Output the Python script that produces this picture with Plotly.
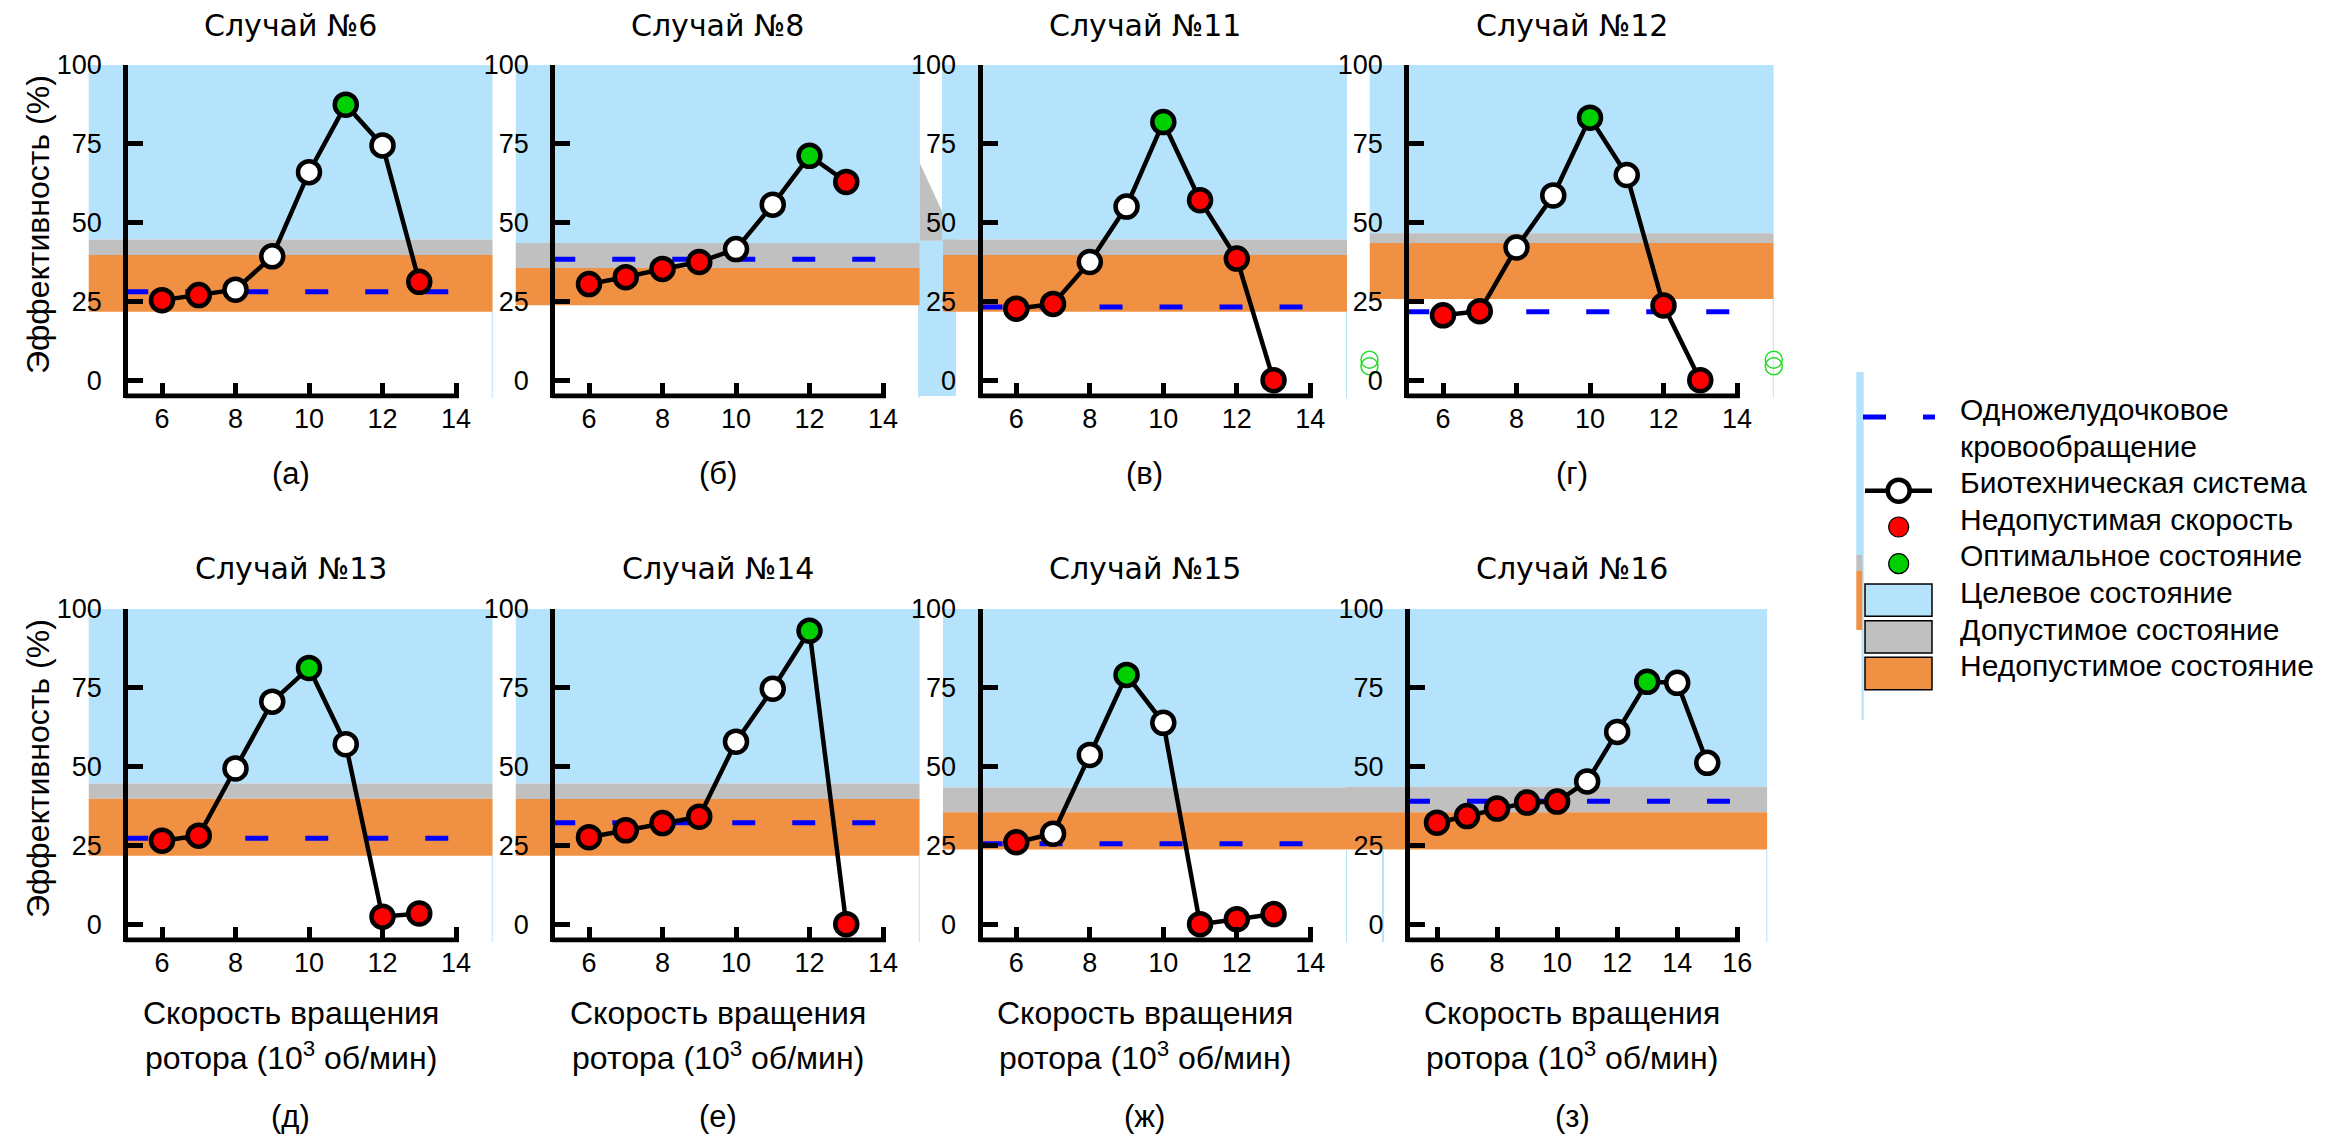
import plotly.graph_objects as go

W, H = 2333, 1136

# ---------------- data ----------------
case_titles = ["Случай №6", "Случай №8", "Случай №11", "Случай №12",
               "Случай №13", "Случай №14", "Случай №15", "Случай №16"]
panel_letters = ["(а)", "(б)", "(в)", "(г)", "(д)", "(е)", "(ж)", "(з)"]

speed_6 = [6, 7, 8, 9, 10, 11, 12, 13]
eff_6 = [25.4, 27.0, 28.7, 39.3, 66.0, 87.4, 74.5, 31.2]
state_6 = ["R", "R", "W", "W", "W", "G", "W", "R"]

speed_8 = [6, 7, 8, 9, 10, 11, 12, 13]
eff_8 = [30.5, 32.7, 35.3, 37.5, 41.6, 55.7, 71.2, 62.9]
state_8 = ["R", "R", "R", "R", "W", "W", "G", "R"]

speed_11 = [6, 7, 8, 9, 10, 11, 12, 13]
eff_11 = [22.7, 24.2, 37.5, 55.1, 81.9, 57.1, 38.6, 0.0]
state_11 = ["R", "R", "W", "W", "G", "R", "R", "R"]

speed_12 = [6, 7, 8, 9, 10, 11, 12, 13]
eff_12 = [20.6, 21.9, 42.1, 58.6, 83.3, 65.1, 23.7, 0.0]
state_12 = ["R", "R", "W", "W", "G", "W", "R", "R"]

speed_13 = [6, 7, 8, 9, 10, 11, 12, 13]
eff_13 = [26.5, 28.1, 49.4, 70.6, 81.3, 57.1, 2.4, 3.4]
state_13 = ["R", "R", "W", "W", "G", "W", "R", "R"]

speed_14 = [6, 7, 8, 9, 10, 11, 12, 13]
eff_14 = [27.6, 29.8, 32.1, 34.1, 57.9, 74.7, 93.1, 0.0]
state_14 = ["R", "R", "R", "R", "W", "W", "G", "R"]

speed_15 = [6, 7, 8, 9, 10, 11, 12, 13]
eff_15 = [26.0, 28.7, 53.7, 79.1, 63.9, 0.0, 1.6, 3.2]
state_15 = ["R", "W", "W", "G", "W", "R", "R", "R"]

speed_16 = [6, 7, 8, 9, 10, 11, 12, 13, 14, 15]
eff_16 = [32.2, 34.3, 36.7, 38.6, 38.9, 45.3, 61.0, 76.9, 76.6, 51.2]
state_16 = ["R", "R", "R", "R", "R", "W", "W", "G", "W", "W"]

# single-ventricle circulation level (dashed line)
single_ventricle = [28.1, 38.4, 23.2, 21.7, 27.3, 32.2, 25.5, 39.0]
# zone boundaries
target_lower = [44.6, 43.5, 44.6, 46.6, 44.6, 44.6, 43.4, 43.6]
acceptable_lower = [39.7, 35.6, 39.7, 43.5, 39.8, 39.7, 35.5, 35.5]
unacceptable_lower = [21.7, 23.8, 21.7, 25.8, 21.7, 21.7, 23.7, 23.7]

y_ticks = [0, 25, 50, 75, 100]
x_ticks_short = [6, 8, 10, 12, 14]
x_ticks_long = [6, 8, 10, 12, 14, 16]

# stray green open circles visible in the source picture (panel г)
stray_x = [4, 4, 15, 15]
stray_y = [6.5, 4.4, 6.5, 4.4]

legend_labels = ["Одножелудочковое", "кровообращение", "Биотехническая система",
                 "Недопустимая скорость", "Оптимальное состояние",
                 "Целевое состояние", "Допустимое состояние", "Недопустимое состояние"]

speeds = [speed_6, speed_8, speed_11, speed_12, speed_13, speed_14, speed_15, speed_16]
effs = [eff_6, eff_8, eff_11, eff_12, eff_13, eff_14, eff_15, eff_16]
states = [state_6, state_8, state_11, state_12, state_13, state_14, state_15, state_16]

# ---------------- styles ----------------
FONT = "Liberation Sans, Arial, sans-serif"
TFONT = "DejaVu Sans, Verdana, sans-serif"
LB = "#B5E3FB"
GRAY = "#C0C0C0"
ORANGE = "#F09043"
RED = "#FF0000"
GREEN = "#00D000"
BLUE = "#0000FF"
state_color = {"R": RED, "W": "#FFFFFF", "G": GREEN}

# panel geometry: (pixel of x=6, px per unit, xmin, xmax, axis end, row)
panels = [
    (154.0, 36.75, 4, 15, 14, 0),
    (581.0, 36.75, 4, 15, 14, 0),
    (1008.3, 36.75, 4, 15, 14, 0),
    (1435.0, 36.75, 4, 15, 14, 0),
    (154.0, 36.75, 4, 15, 14, 1),
    (581.0, 36.75, 4, 15, 14, 1),
    (1008.3, 36.75, 4, 15, 14, 1),
    (1429.0, 30.03, 3, 17, 16, 1),
]
row_top = [57.0, 601.0]      # pixel of y=100
ys = 3.152                    # px per unit y
YMIN = -5.8
DY = -8                       # text baseline correction

def px2py(p):
    return 1 - p / H

fig = go.Figure()
layout = dict(width=W, height=H, margin=dict(l=0, r=0, t=0, b=0),
              paper_bgcolor="white", plot_bgcolor="rgba(0,0,0,0)",
              showlegend=False, font=dict(family=FONT, color="black"))
shapes = []
annotations = []

for i, (p6, sx, xmin, xmax, xend, row) in enumerate(panels):
    n = i + 1
    xa = "xaxis" if n == 1 else f"xaxis{n}"
    ya = "yaxis" if n == 1 else f"yaxis{n}"
    xr = "x" if n == 1 else f"x{n}"
    yr = "y" if n == 1 else f"y{n}"
    d0 = (p6 - (6 - xmin) * sx) / W
    d1 = (p6 + (xmax - 6) * sx) / W
    top = row_top[row]
    bot = top + (100 - YMIN) * ys
    yd = [px2py(bot), px2py(top)]
    ypos = d0 + (5 - xmin) / (xmax - xmin) * (d1 - d0)
    layout[xa] = dict(domain=[d0, d1], range=[xmin, xmax], anchor=yr,
                      showline=False, showgrid=False, zeroline=False,
                      ticks="inside", ticklen=15, tickwidth=5, tickcolor="black",
                      tickvals=x_ticks_long if xend == 16 else x_ticks_short,
                      tickfont=dict(size=27, family=FONT, color="black"),
                      ticklabelstandoff=2, automargin=False, fixedrange=True)
    layout[ya] = dict(domain=yd, range=[YMIN, 100], anchor="free", position=ypos,
                      showline=True, linewidth=5, linecolor="black",
                      showgrid=False, zeroline=False,
                      ticks="inside", ticklen=15, tickwidth=5, tickcolor="black",
                      tickvals=y_ticks,
                      tickfont=dict(size=27, family=FONT, color="black"),
                      ticklabelstandoff=16, automargin=False, fixedrange=True)

    # zones
    shapes.append(dict(type="rect", xref=xr, yref=yr, x0=xmin, x1=xmax,
                       y0=target_lower[i], y1=100, fillcolor=LB, line_width=0, layer="below"))
    shapes.append(dict(type="rect", xref=xr, yref=yr, x0=xmin, x1=xmax,
                       y0=acceptable_lower[i], y1=target_lower[i], fillcolor=GRAY,
                       line_width=0, layer="below"))
    shapes.append(dict(type="rect", xref=xr, yref=yr, x0=xmin, x1=xmax,
                       y0=unacceptable_lower[i], y1=acceptable_lower[i], fillcolor=ORANGE,
                       line_width=0, layer="below"))
    shapes.append(dict(type="line", xref=xr, yref=yr, x0=xmax, x1=xmax,
                       y0=YMIN, y1=unacceptable_lower[i], line=dict(color=LB, width=2),
                       layer="below"))
    if xmin == 3:
        shapes.append(dict(type="line", xref=xr, yref=yr, x0=4.2, x1=4.2,
                           y0=YMIN, y1=unacceptable_lower[i], line=dict(color=LB, width=2),
                           layer="below"))
    # x axis line
    shapes.append(dict(type="line", xref=xr, yref=yr, x0=5, x1=xend + 2.5 / sx,
                       y0=-5, y1=-5, line=dict(color="black", width=5), layer="above"))

    # dashed single-ventricle line
    fig.add_trace(go.Scatter(x=[5, xend], y=[single_ventricle[i]] * 2, mode="lines",
                             line=dict(color=BLUE, width=5, dash="23px,37px"),
                             xaxis=xr, yaxis=yr, hoverinfo="skip"))
    # biotechnical system
    fig.add_trace(go.Scatter(x=speeds[i], y=effs[i], mode="lines+markers",
                             line=dict(color="black", width=4.5),
                             marker=dict(size=22, color=[state_color[s] for s in states[i]],
                                         line=dict(color="black", width=4.5)),
                             cliponaxis=False, xaxis=xr, yaxis=yr))
    if i == 3:
        fig.add_trace(go.Scatter(x=stray_x, y=stray_y, mode="markers",
                                 marker=dict(symbol="circle-open", size=17, color="#22DD22",
                                             line=dict(width=1.5)),
                                 cliponaxis=False, xaxis=xr, yaxis=yr))

    xc = (5 + xend) / 2
    if row == 0:
        annotations.append(dict(text=case_titles[i], xref=xr, yref="paper", x=xc,
                                y=px2py(25 + DY), xanchor="center", yanchor="middle",
                                showarrow=False, font=dict(size=30, family=TFONT)))
        annotations.append(dict(text=panel_letters[i], xref=xr, yref="paper", x=xc,
                                y=px2py(473 + DY), xanchor="center", yanchor="middle",
                                showarrow=False, font=dict(size=31)))
    else:
        annotations.append(dict(text=case_titles[i], xref=xr, yref="paper", x=xc,
                                y=px2py(569 + DY), xanchor="center", yanchor="middle",
                                showarrow=False, font=dict(size=30, family=TFONT)))
        annotations.append(dict(text="Скорость вращения", xref=xr, yref="paper", x=xc,
                                y=px2py(1013 + DY), xanchor="center", yanchor="middle",
                                showarrow=False, font=dict(size=32)))
        annotations.append(dict(text="ротора (10<sup>3</sup> об/мин)", xref=xr, yref="paper",
                                x=xc, y=px2py(1056 + DY), xanchor="center", yanchor="middle",
                                showarrow=False, font=dict(size=32)))
        annotations.append(dict(text=panel_letters[i], xref=xr, yref="paper", x=xc,
                                y=px2py(1116 + DY), xanchor="center", yanchor="middle",
                                showarrow=False, font=dict(size=31)))
    if i in (0, 4):
        annotations.append(dict(text="Эффективность (%)", xref="paper", yref="paper",
                                x=30 / W, y=px2py(row_top[row] + 160), textangle=-90,
                                xanchor="center", yanchor="middle", showarrow=False,
                                font=dict(size=32)))

# ---------------- stray fragments between panels (paper layer) ----------------
def pr(x0, x1, y0, y1, color):
    return dict(type="rect", xref="paper", yref="paper", x0=x0 / W, x1=x1 / W,
                y0=px2py(y1), y1=px2py(y0), fillcolor=color, line_width=0, layer="below")

shapes.insert(0, pr(910, 948, 57, 388, LB))
shapes.insert(1, pr(911.7, 934, 57, 232.7, "white"))
wedge = (f"M {911.7 / W},{px2py(155)} L {934 / W},{px2py(203)} "
         f"L {934 / W},{px2py(232.7)} L {911.7 / W},{px2py(232.7)} Z")
shapes.insert(2, dict(type="path", xref="paper", yref="paper", path=wedge,
                      fillcolor=GRAY, line_width=0, layer="below"))
shapes.insert(3, pr(1848.3, 1855.7, 364, 547, LB))
shapes.insert(4, pr(1853.5, 1855.7, 547, 712, LB))
shapes.insert(5, pr(1848.3, 1854.3, 547, 563, GRAY))
shapes.insert(6, pr(1848.3, 1854.3, 563, 622, ORANGE))

# ---------------- legend (pixel-space helper axis) ----------------
layout["xaxis9"] = dict(domain=[0, 1], range=[0, W], visible=False, anchor="y9", fixedrange=True)
layout["yaxis9"] = dict(domain=[0, 1], range=[H, 0], visible=False, anchor="x9", fixedrange=True)

LX0, LX1, LXC, TX = 1857, 1924, 1890.7, 1950
fig.add_trace(go.Scatter(x=[1855, 1927], y=[409, 409], mode="lines",
                         line=dict(color=BLUE, width=5, dash="23px,37px"),
                         xaxis="x9", yaxis="y9", hoverinfo="skip"))
fig.add_trace(go.Scatter(x=[LX0, LX1], y=[482.7, 482.7], mode="lines",
                         line=dict(color="black", width=4.5), xaxis="x9", yaxis="y9"))
fig.add_trace(go.Scatter(x=[LXC], y=[482.7], mode="markers",
                         marker=dict(size=22, color="white", line=dict(color="black", width=4.5)),
                         xaxis="x9", yaxis="y9"))
fig.add_trace(go.Scatter(x=[LXC, LXC], y=[519, 555.7], mode="markers",
                         marker=dict(size=20, color=[RED, GREEN], line=dict(color="black", width=1.2)),
                         xaxis="x9", yaxis="y9"))
for (y0, y1, c) in [(576, 608.3, LB), (612.7, 645, GRAY), (649.3, 681.7, ORANGE)]:
    shapes.append(dict(type="rect", xref="x9", yref="y9", x0=LX0, x1=LX1, y0=y0, y1=y1,
                       fillcolor=c, line=dict(color="black", width=1.5)))
for txt, yy in zip(legend_labels, [409, 446.7, 482.7, 519, 555.7, 592.3, 629, 665.7]):
    annotations.append(dict(text=txt, xref="x9", yref="y9", x=TX, y=yy + DY, xanchor="left",
                            yanchor="middle", showarrow=False, font=dict(size=30)))

layout["shapes"] = shapes
layout["annotations"] = annotations
fig.update_layout(**layout)
fig.write_html("out.html")
